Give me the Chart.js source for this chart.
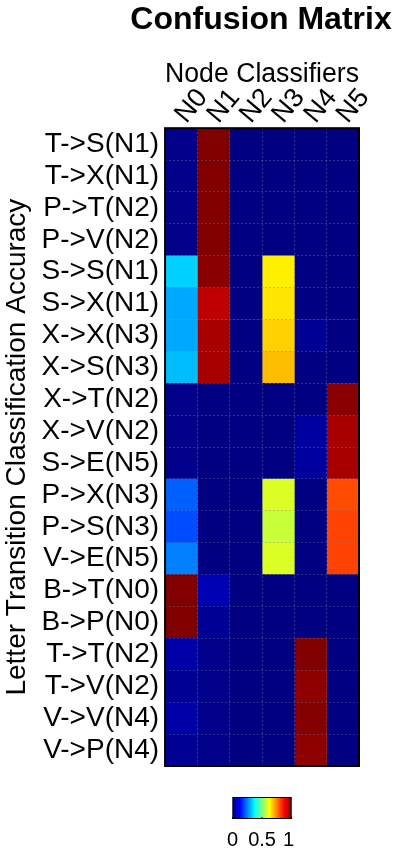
<!DOCTYPE html>
<html>
<head>
<meta charset="utf-8">
<script src="https://cdn.jsdelivr.net/npm/chart.js@4/dist/chart.umd.min.js"></script>
<style>
  html, body { margin: 0; padding: 0; background: #fff; }
  #wrap { width: 400px; height: 850px; position: relative; }
</style>
</head>
<body>
<div id="wrap"><canvas id="c" width="400" height="850"></canvas></div>
<script>
// ---- data ----
const chartTitle = 'Confusion Matrix';
const rowLabels = ['T->S(N1)','T->X(N1)','P->T(N2)','P->V(N2)','S->S(N1)','S->X(N1)','X->X(N3)','X->S(N3)',
  'X->T(N2)','X->V(N2)','S->E(N5)','P->X(N3)','P->S(N3)','V->E(N5)','B->T(N0)','B->P(N0)',
  'T->T(N2)','T->V(N2)','V->V(N4)','V->P(N4)'];
const colLabels = ['N0','N1','N2','N3','N4','N5'];
const accN0 = [0.01,0.01,0.01,0.01,0.33,0.29,0.29,0.31,0.01,0.01,0.01,0.22,0.20,0.25,1.00,1.00,0.04,0.02,0.04,0.02];
const accN1 = [1.00,1.00,1.00,1.00,0.99,0.94,0.96,0.96,0.00,0.00,0.00,0.00,0.00,0.00,0.05,0.02,0.01,0.01,0.01,0.01];
const accN2 = [0.00,0.00,0.00,0.00,0.00,0.00,0.00,0.00,0.00,0.00,0.00,0.00,0.00,0.00,0.00,0.00,0.00,0.00,0.00,0.00];
const accN3 = [0.00,0.00,0.00,0.00,0.64,0.65,0.67,0.69,0.00,0.00,0.00,0.59,0.57,0.59,0.00,0.00,0.00,0.00,0.00,0.00];
const accN4 = [0.00,0.00,0.00,0.00,0.00,0.00,0.02,0.00,0.00,0.03,0.03,0.00,0.00,0.00,0.00,0.00,1.00,0.985,0.995,0.985];
const accN5 = [0.00,0.00,0.00,0.00,0.00,0.00,0.00,0.00,0.99,0.96,0.96,0.80,0.81,0.81,0.00,0.00,0.00,0.00,0.00,0.00];
const columns = [accN0, accN1, accN2, accN3, accN4, accN5];
const cbTicks = [0, 0.5, 1];
const cbTickLabels = ['0', '0.5', '1'];

// ---- jet colormap ----
function jet(v) {
  const c = x => Math.max(0, Math.min(1, x));
  const r = c(1.5 - Math.abs(4 * v - 3));
  const g = c(1.5 - Math.abs(4 * v - 2));
  const b = c(1.5 - Math.abs(4 * v - 1));
  return `rgb(${Math.round(r*255)},${Math.round(g*255)},${Math.round(b*255)})`;
}

const FONT = "'Liberation Sans', Arial, sans-serif";
const GRID = 'rgba(120,120,160,0.4)';

const datasets = columns.map((vals, j) => ({
  label: colLabels[j],
  data: rowLabels.map(() => [j, j + 1]),
  backgroundColor: vals.map(v => jet(v)),
  borderWidth: 0,
  grouped: false,
  barPercentage: 1,
  categoryPercentage: 1,
  xAxisID: 'x',
  yAxisID: 'y'
}));

const framePlugin = {
  id: 'frame',
  afterDraw(chart) {
    const { ctx, chartArea: a } = chart;
    ctx.save();
    ctx.strokeStyle = '#000';
    ctx.lineWidth = 2;
    ctx.strokeRect(a.left, a.top, a.right - a.left, a.bottom - a.top);

    // title
    const cx = (a.left + a.right) / 2;
    ctx.fillStyle = '#000';
    ctx.font = `bold 32px ${FONT}`;
    ctx.textAlign = 'center';
    ctx.textBaseline = 'middle';
    ctx.fillText(chartTitle, cx - 1, 20);

    // colorbar
    const cbW = 59, cbH = 22;
    const x0 = cx - cbW / 2, y0 = a.bottom + 31;
    const grad = ctx.createLinearGradient(x0, 0, x0 + cbW, 0);
    for (let i = 0; i <= 32; i++) grad.addColorStop(i / 32, jet(i / 32));
    ctx.fillStyle = grad;
    ctx.fillRect(x0, y0, cbW, cbH);
    ctx.lineWidth = 1;
    ctx.strokeStyle = '#000';
    ctx.strokeRect(x0 + 0.5, y0 + 0.5, cbW - 1, cbH - 1);
    ctx.fillStyle = '#000';
    ctx.font = `20px ${FONT}`;
    cbTicks.forEach((t, i) => {
      const x = x0 + t * cbW;
      ctx.beginPath();
      ctx.moveTo(x, y0 + cbH); ctx.lineTo(x, y0 + cbH - 2); ctx.stroke();
      ctx.fillText(cbTickLabels[i], i === cbTicks.length - 1 ? x - 3 : x, y0 + cbH + 21);
    });
    ctx.restore();
  }
};

new Chart(document.getElementById('c'), {
  type: 'bar',
  data: { labels: rowLabels, datasets },
  options: {
    indexAxis: 'y',
    responsive: false,
    animation: false,
    layout: { padding: { left: 0, right: 41, top: 58, bottom: 84 } },
    plugins: {
      legend: { display: false },
      tooltip: { enabled: false },
      title: { display: false }
    },
    scales: {
      x: { type: 'linear', min: 0, max: 6, display: false },
      xTop: {
        type: 'category',
        labels: colLabels,
        position: 'top',
        offset: true,
        grid: { offset: true, color: GRID, lineWidth: 1, drawTicks: false, z: 1 },
        border: { display: false, dash: [2, 2] },
        ticks: { color: '#000', font: { family: FONT, size: 27, lineHeight: 1 }, minRotation: 50, maxRotation: 50, padding: 0, labelOffset: 20, autoSkip: false },
        title: { display: true, text: 'Node Classifiers', color: '#000', font: { family: FONT, size: 27 }, padding: { top: 0, bottom: -6 } }
      },
      y: {
        type: 'category',
        offset: true,
        grid: { offset: true, color: GRID, lineWidth: 1, drawTicks: false, z: 1 },
        border: { display: false, dash: [2, 2] },
        ticks: { color: '#000', font: { family: FONT, size: 28 }, padding: 6, autoSkip: false },
        title: { display: true, text: 'Letter Transition Classification Accuracy', color: '#000', font: { family: FONT, size: 28 }, padding: { top: 0, bottom: 2 } }
      }
    }
  },
  plugins: [framePlugin]
});
</script>
</body>
</html>
